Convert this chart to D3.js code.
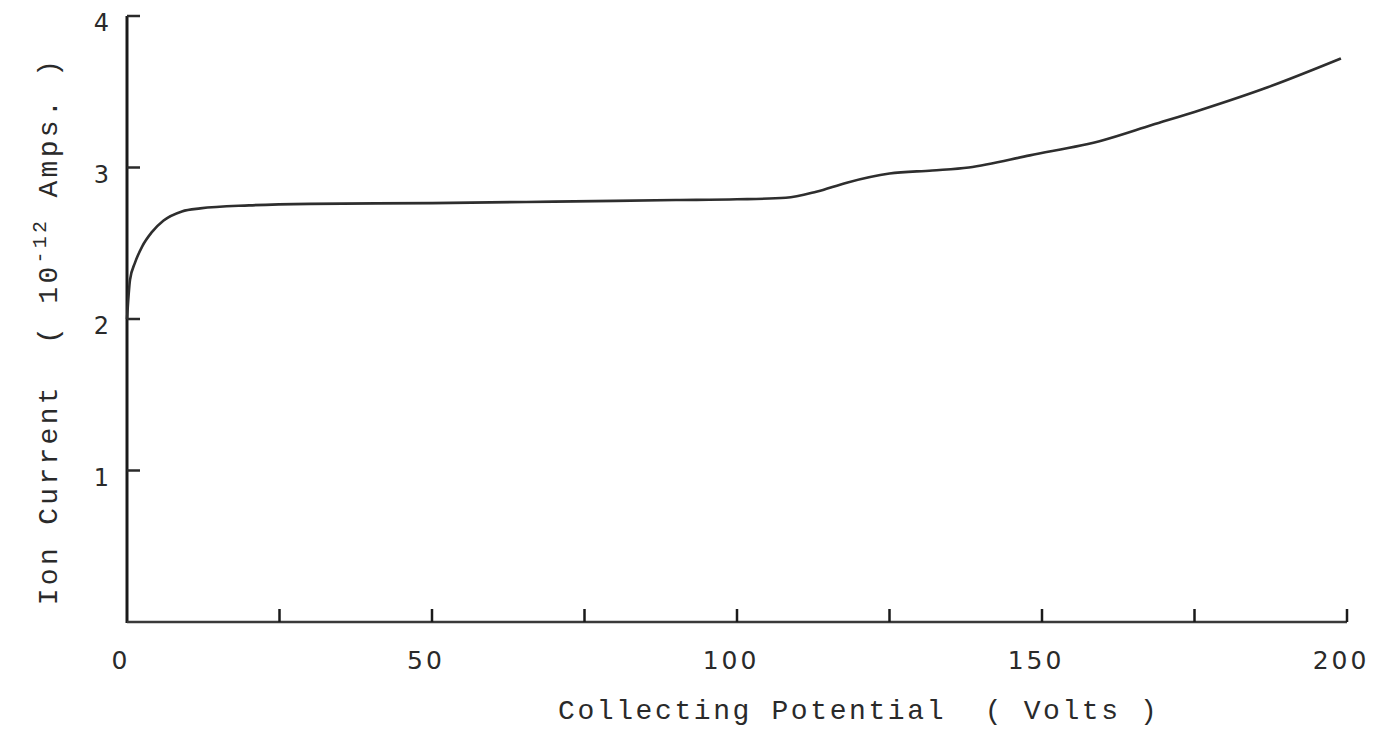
<!DOCTYPE html>
<html>
<head>
<meta charset="utf-8">
<script src="https://cdn.jsdelivr.net/npm/d3@7"></script>
<style>
  body { margin: 0; background: #fff; }
  text { fill: #2a2a2a; white-space: pre; }
</style>
</head>
<body>
<div id="chart"></div>
<script>
// collecting potential (volts) and ion current (1e-12 A)
const volts = [0, 0.5, 1.3, 2.5, 4, 6, 9, 12, 20, 30, 50, 70, 90, 100, 108, 113, 118, 125, 132, 138, 148, 160, 168, 176, 187, 199];
const current = [2.0, 2.26, 2.37, 2.48, 2.57, 2.65, 2.71, 2.73, 2.75, 2.76, 2.765, 2.775, 2.785, 2.79, 2.80, 2.84, 2.90, 2.96, 2.98, 3.0, 3.08, 3.18, 3.28, 3.38, 3.53, 3.72];

const xTicks = [25, 50, 75, 100, 125, 150, 175, 200];
const xLabels = [0, 50, 100, 150, 200];
const yTicks = [1, 2, 3, 4];

const width = 1389;
const height = 733;

const x = d3.scaleLinear().domain([0, 200]).range([127, 1347]);
const y = d3.scaleLinear().domain([0, 4]).range([622, 16]);

const svg = d3.select('#chart')
    .append('svg')
    .attr('width', width)
    .attr('height', height);

// axes drawn by hand, like the typed original
svg.append('line')
    .attr('x1', x(0)).attr('x2', x(0))
    .attr('y1', y(0) + 1).attr('y2', y(4))
    .attr('stroke', '#1a1a1a')
    .attr('stroke-width', 3);

svg.append('line')
    .attr('x1', x(0)).attr('x2', x(200))
    .attr('y1', y(0)).attr('y2', y(0))
    .attr('stroke', '#3a3a3a')
    .attr('stroke-width', 2.5);

svg.selectAll('.ytick')
    .data(yTicks)
    .enter()
    .append('line')
    .attr('class', 'ytick')
    .attr('x1', x(0)).attr('x2', x(0) + 13)
    .attr('y1', d => y(d)).attr('y2', d => y(d))
    .attr('stroke', '#2a2a2a')
    .attr('stroke-width', 2.5);

svg.selectAll('.xtick')
    .data(xTicks)
    .enter()
    .append('line')
    .attr('class', 'xtick')
    .attr('x1', d => x(d)).attr('x2', d => x(d))
    .attr('y1', y(0)).attr('y2', y(0) - 13)
    .attr('stroke', '#1a1a1a')
    .attr('stroke-width', 2.5);

// tick labels
svg.selectAll('.ylabel')
    .data(yTicks)
    .enter()
    .append('text')
    .attr('class', 'ylabel')
    .attr('x', 109)
    .attr('y', d => y(d) + 15)
    .attr('text-anchor', 'end')
    .style('font-family', 'DejaVu Sans')
    .style('font-size', '24px')
    .text(d => d);

svg.selectAll('.xlabel')
    .data(xLabels)
    .enter()
    .append('text')
    .attr('class', 'xlabel')
    .attr('x', d => x(d) - 6)
    .attr('y', 669)
    .attr('text-anchor', 'middle')
    .style('font-family', 'DejaVu Sans')
    .style('font-size', '25px')
    .style('letter-spacing', '3px')
    .text(d => d);

// axis titles
svg.append('text')
    .attr('x', 558)
    .attr('y', 719)
    .style('font-family', 'Liberation Mono')
    .style('font-size', '28px')
    .style('letter-spacing', '2.6px')
    .text('Collecting Potential  ( Volts )');

const yTitle = svg.append('text')
    .attr('transform', 'translate(57, 331) rotate(-90)')
    .attr('text-anchor', 'middle')
    .style('font-family', 'Liberation Mono')
    .style('font-size', '28px')
    .style('letter-spacing', '3.3px');
yTitle.append('tspan').text('Ion Current  ( 10');
yTitle.append('tspan').attr('dy', -11).style('font-size', '20px').text('-12');
yTitle.append('tspan').attr('dy', 11).text(' Amps. )');

// the measured curve
const line = d3.line()
    .x((d, i) => x(volts[i]))
    .y(d => y(d))
    .curve(d3.curveMonotoneX);

svg.append('path')
    .datum(current)
    .attr('d', line)
    .attr('fill', 'none')
    .attr('stroke', '#2e2e2e')
    .attr('stroke-width', 2.6);
</script>
</body>
</html>
